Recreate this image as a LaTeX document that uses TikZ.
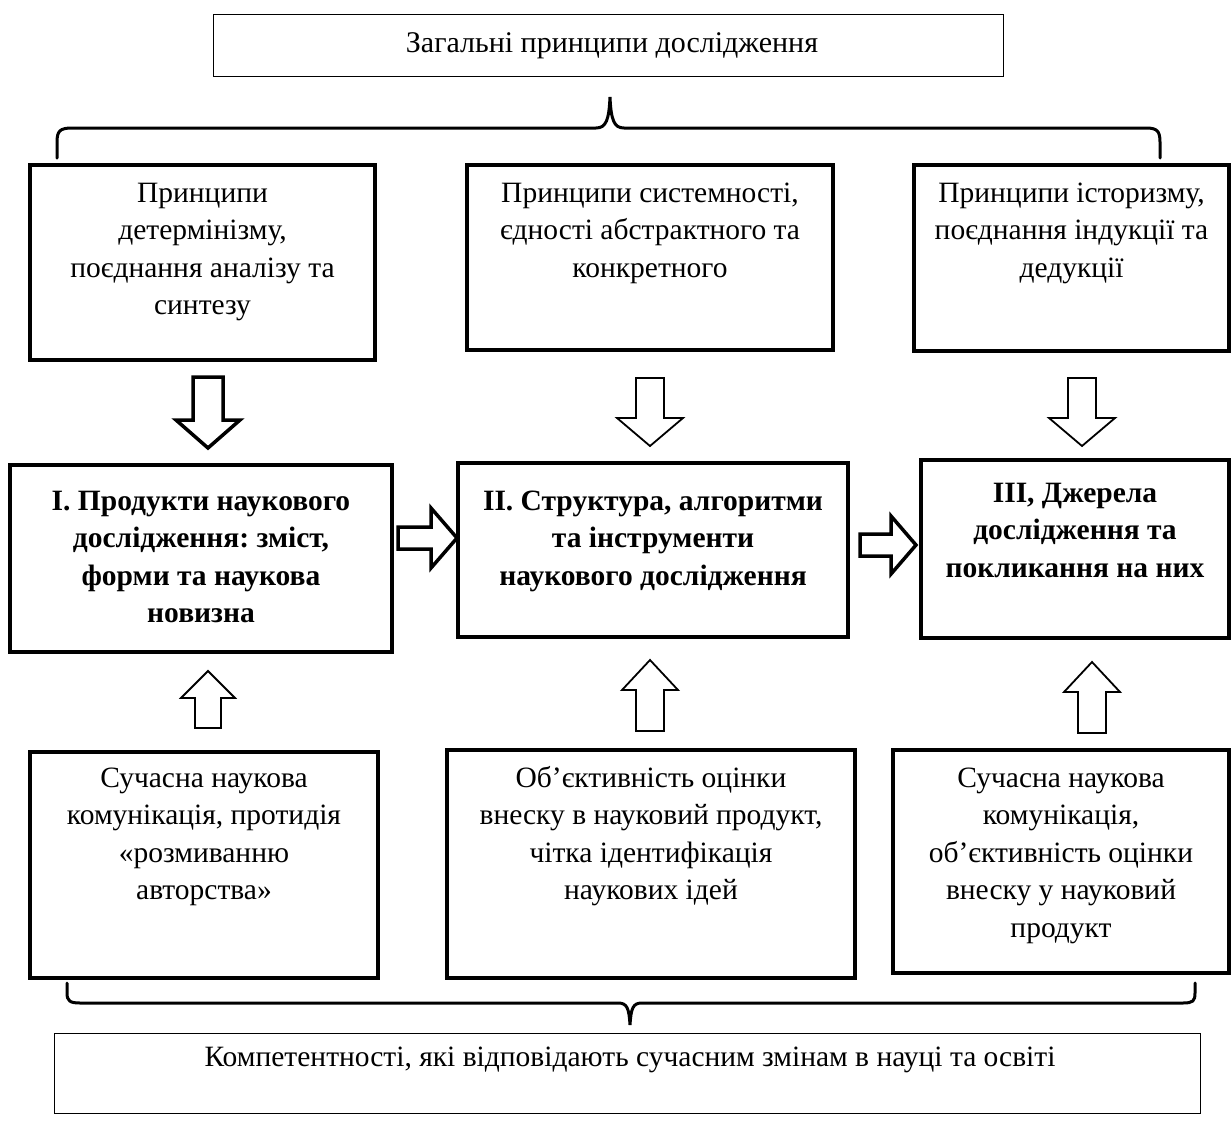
\documentclass[tikz,border=0pt]{standalone}
\usepackage{fontspec}
\setmainfont{Liberation Serif}
\frenchspacing
\begin{document}
\frenchspacing
\begin{tikzpicture}[x=1pt,y=-1pt,
  thickbox/.style={draw, line width=3.5pt, inner sep=0pt},
  thinbox/.style={draw, line width=1pt, inner sep=0pt},
  txt/.style={font=\fontsize{29.5}{37.5}\selectfont, align=center, anchor=north, inner sep=0pt},
  btxt/.style={font=\fontsize{29.5}{37.5}\selectfont\bfseries, align=center, anchor=north, inner sep=0pt},
  arrthick/.style={draw, line width=3.5pt, line join=miter},
  arrthin/.style={draw, line width=1.8pt, line join=miter},
  brace/.style={draw, line width=3pt, line cap=round}
]
\useasboundingbox (0,0) rectangle (1231,1127);

% top box
\node[thinbox, minimum width=790pt, minimum height=62pt] (top) at (608,45) {};
\node[font=\fontsize{30}{37.5}\selectfont, anchor=base, inner sep=0pt] (topt) at (612,52) {Загальні принципи дослідження};

% top brace
\draw[brace] (57,158) -- (57,142) .. controls (57,131) and (60,128) .. (72,128) -- (596,128)
  .. controls (606,128) and (609,120) .. (610,97) .. controls (611,120) and (614,128) .. (624,128)
  -- (1146,128) .. controls (1157,128) and (1160,131) .. (1160,142) -- (1160,158);

% row 1
\node[thickbox, minimum width=345pt, minimum height=195pt] (p1) at (202.5,262.5) {};
\node[thickbox, minimum width=366pt, minimum height=185pt] (p2) at (650,257.5) {};
\node[thickbox, minimum width=315pt, minimum height=186pt] (p3) at (1071.5,258) {};
\node[txt] (p1t) at (202.5,177) {\rule{0pt}{25pt}Принципи\\детермінізму,\\поєднання аналізу та\\синтезу};
\node[txt] (p2t) at (650,177) {\rule{0pt}{25pt}Принципи системності,\\єдності абстрактного та\\конкретного};
\node[txt] (p3t) at (1071.5,177) {\rule{0pt}{25pt}Принципи історизму,\\поєднання індукції та\\дедукції};

% down arrows
\draw[arrthick, shift={(208,377)}] (-15,0) -- (15,0) -- (15,43) -- (32,43) -- (0,71) -- (-32,43) -- (-15,43) -- cycle;
\draw[arrthin, shift={(650,378)}] (-14,0) -- (14,0) -- (14,40) -- (33,40) -- (0,68) -- (-33,40) -- (-14,40) -- cycle;
\draw[arrthin, shift={(1082,378)}] (-14,0) -- (14,0) -- (14,40) -- (33,40) -- (0,68) -- (-33,40) -- (-14,40) -- cycle;

% row 2
\node[thickbox, minimum width=382pt, minimum height=187pt] (m1) at (201,558.5) {};
\node[thickbox, minimum width=390pt, minimum height=174pt] (m2) at (653,550) {};
\node[thickbox, minimum width=308pt, minimum height=178pt] (m3) at (1075,549) {};
\node[btxt] (m1t) at (201,485) {\rule{0pt}{25pt}I. Продукти наукового\\дослідження: зміст,\\форми та наукова\\новизна};
\node[btxt] (m2t) at (653,485) {\rule{0pt}{25pt}II. Структура, алгоритми\\та інструменти\\наукового дослідження};
\node[btxt] (m3t) at (1075,477) {\rule{0pt}{25pt}III, Джерела\\дослідження та\\покликання на них};

% right arrows
\draw[arrthick, shift={(398,538)}] (0,-11) -- (33,-11) -- (33,-30) -- (59,0) -- (33,30) -- (33,11) -- (0,11) -- cycle;
\draw[arrthick, shift={(860,545)}] (0,-11) -- (31,-11) -- (31,-29) -- (56,0) -- (31,29) -- (31,11) -- (0,11) -- cycle;

% up arrows
\draw[arrthin, shift={(208,671)}] (0,0) -- (27,27) -- (13,27) -- (13,57) -- (-13,57) -- (-13,27) -- (-27,27) -- cycle;
\draw[arrthin, shift={(650,660)}] (0,0) -- (28,30) -- (14,30) -- (14,71) -- (-14,71) -- (-14,30) -- (-28,30) -- cycle;
\draw[arrthin, shift={(1092,662)}] (0,0) -- (28,30) -- (14,30) -- (14,71) -- (-14,71) -- (-14,30) -- (-28,30) -- cycle;

% row 3
\node[thickbox, minimum width=348pt, minimum height=226pt] (b1) at (204,865) {};
\node[thickbox, minimum width=408pt, minimum height=228pt] (b2) at (651,864) {};
\node[thickbox, minimum width=336pt, minimum height=223pt] (b3) at (1061,861.5) {};
\node[txt] (b1t) at (204,762) {\rule{0pt}{25pt}Сучасна наукова\\комунікація, протидія\\«розмиванню\\авторства»};
\node[txt] (b2t) at (651,762) {\rule{0pt}{25pt}Об’єктивність оцінки\\внеску в науковий продукт,\\чітка ідентифікація\\наукових ідей};
\node[txt] (b3t) at (1061,762) {\rule{0pt}{25pt}Сучасна наукова\\комунікація,\\об’єктивність оцінки\\внеску у науковий\\продукт};

% bottom brace
\draw[brace] (67,983) -- (67,993) .. controls (67,1001) and (70,1003) .. (80,1003) -- (618,1003)
  .. controls (627,1003) and (629,1008) .. (630,1025) .. controls (631,1008) and (633,1003) .. (642,1003)
  -- (1183,1003) .. controls (1193,1003) and (1195,1001) .. (1195,993) -- (1195,983);

% bottom box
\node[thinbox, minimum width=1146pt, minimum height=80pt] (bot) at (627,1073) {};
\node[font=\fontsize{29.5}{37.5}\selectfont, anchor=base, inner sep=0pt] (bott) at (630,1066) {Компетентності, які відповідають сучасним змінам в науці та освіті};
\end{tikzpicture}
\end{document}
